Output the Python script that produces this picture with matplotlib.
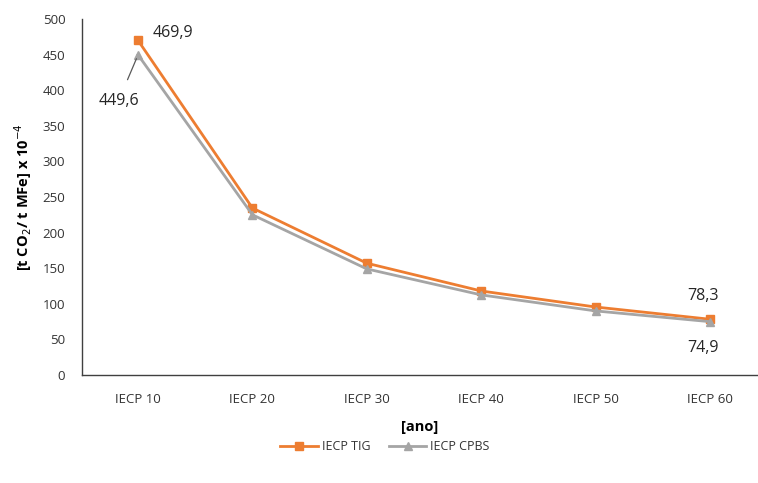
import matplotlib.pyplot as plt

# dados do gráfico
categorias = ['IECP 10', 'IECP 20', 'IECP 30', 'IECP 40', 'IECP 50', 'IECP 60']
iecp_tig = [469.9, 234.5, 157.0, 118.0, 95.5, 78.3]
iecp_cpbs = [449.6, 225.0, 149.0, 112.5, 90.0, 74.9]

cor_tig = '#ED7D31'
cor_cpbs = '#A5A5A5'

def fmt(v):
    return f'{v:.1f}'.replace('.', ',')

plt.rcParams['font.family'] = ['Open Sans', 'DejaVu Sans']

fig = plt.figure(figsize=(7.58, 4.83), dpi=100)
ax = fig.add_axes([82 / 758, 1 - 375 / 483, 676 / 758, 356 / 483])

x = range(len(categorias))
ax.plot(x, iecp_tig, color=cor_tig, lw=2, marker='s', ms=6, label='IECP TIG')
ax.plot(x, iecp_cpbs, color=cor_cpbs, lw=2, marker='^', ms=6, label='IECP CPBS')

ax.set_xlim(-0.49, 5.42)
ax.set_ylim(0, 500)
ax.set_yticks(range(0, 501, 50))
ax.set_xticks(list(x))
ax.set_xticklabels(categorias)
ax.tick_params(axis='both', length=0, labelsize=9.5, colors='#333333')
ax.tick_params(axis='y', pad=12)
ax.tick_params(axis='x', pad=13)

for s in ['top', 'right']:
    ax.spines[s].set_visible(False)
for s in ['left', 'bottom']:
    ax.spines[s].set_color('#404040')
    ax.spines[s].set_linewidth(1.0)

ax.set_xlabel('[ano]', fontsize=10.5, fontweight='bold', labelpad=10)
ax.set_ylabel('[t CO$_2$/ t MFe] x 10$^{-4}$', fontsize=10.5, fontweight='bold', labelpad=6)

# rótulos de valores
rotulo = dict(textcoords='offset points', fontsize=11.5, color='#262626',
              ha='center', va='center')
ax.annotate(fmt(iecp_tig[0]), xy=(0, iecp_tig[0]), xytext=(25, 5), **rotulo)
ax.annotate(fmt(iecp_cpbs[0]), xy=(0, iecp_cpbs[0]), xytext=(-14, -33),
            arrowprops=dict(arrowstyle='-', color='#595959', lw=0.9,
                            shrinkA=8, shrinkB=3), **rotulo)
ax.annotate(fmt(iecp_tig[5]), xy=(5, iecp_tig[5]), xytext=(-5, 17), **rotulo)
ax.annotate(fmt(iecp_cpbs[5]), xy=(5, iecp_cpbs[5]), xytext=(-5, -19), **rotulo)

fig.legend(loc='center', bbox_to_anchor=(385 / 758, 1 - 447 / 483), ncol=2,
           frameon=False, fontsize=9, handlelength=3, columnspacing=1.5,
           handletextpad=0.3, labelcolor='#333333')

plt.savefig('out.png', dpi=100)
